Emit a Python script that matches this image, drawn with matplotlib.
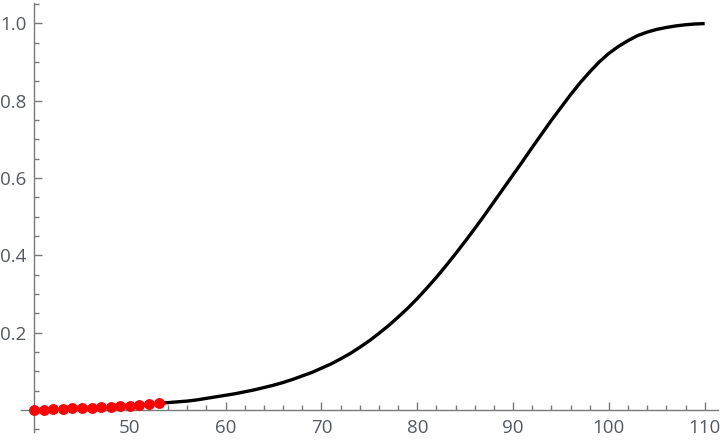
import matplotlib
matplotlib.use("Agg")
import matplotlib.pyplot as plt
from matplotlib.ticker import FixedLocator

plt.rcParams['font.family'] = ['Open Sans', 'DejaVu Sans']

# Observed data points (red)
obs_age = [40, 41, 42, 43, 44, 45, 46, 47, 48, 49, 50, 51, 52, 53]
obs_val = [0.000, 0.001, 0.002, 0.003, 0.004, 0.005, 0.006, 0.007,
           0.008, 0.010, 0.011, 0.013, 0.015, 0.017]

# Fitted curve (black)
curve_age = list(range(53, 111))
curve_val = [0.017, 0.019, 0.021, 0.023, 0.026, 0.030, 0.034, 0.038, 0.042,
             0.047, 0.052, 0.058, 0.064, 0.071, 0.079, 0.088, 0.097, 0.108,
             0.119, 0.132, 0.146, 0.162, 0.179, 0.198, 0.218, 0.240, 0.263,
             0.288, 0.315, 0.343, 0.373, 0.404, 0.436, 0.469, 0.503, 0.538,
             0.573, 0.608, 0.643, 0.679, 0.714, 0.749, 0.782, 0.815, 0.846,
             0.874, 0.900, 0.922, 0.940, 0.955, 0.968, 0.977, 0.984, 0.989,
             0.993, 0.996, 0.998, 0.999]

x_major = [50, 60, 70, 80, 90, 100, 110]
y_major = [0.2, 0.4, 0.6, 0.8, 1.0]
y_labels = ["0.2", "0.4", "0.6", "0.8", "1.0"]

fig = plt.figure(figsize=(7.2, 4.4), dpi=100)
ax = fig.add_axes([21/720, 8/440, (718-21)/720, (437.3-8)/440])

ax.plot(curve_age, curve_val, color='black', lw=2.4, solid_capstyle='butt',
        solid_joinstyle='round', zorder=3)
ax.plot(obs_age, obs_val, 'o', color='#ff0000', ms=6.8, mec='#ff0000',
        zorder=4, clip_on=False)

ax.set_xlim(38.64, 111.39)
ax.set_ylim(-0.057, 1.053)

axis_col = '#7a7a7a'
label_col = '#555a60'
for s in ['top', 'right']:
    ax.spines[s].set_visible(False)
ax.spines['left'].set_position(('data', 40))
ax.spines['bottom'].set_position(('data', 0))
for s in ['left', 'bottom']:
    ax.spines[s].set_color(axis_col)
    ax.spines[s].set_linewidth(1.0)

ax.xaxis.set_major_locator(FixedLocator(x_major))
ax.xaxis.set_minor_locator(FixedLocator([v for v in range(42, 112, 2) if v % 10 != 0]))
ax.yaxis.set_major_locator(FixedLocator(y_major))
ax.set_yticklabels(y_labels)
ax.yaxis.set_minor_locator(FixedLocator([-0.05, 0.05, 0.1, 0.15, 0.25, 0.3, 0.35,
                                         0.45, 0.5, 0.55, 0.65, 0.7, 0.75,
                                         0.85, 0.9, 0.95, 1.05]))

ax.tick_params(which='both', direction='in', color=axis_col, width=1.0)
ax.tick_params(which='major', length=6, labelsize=13.5, labelcolor=label_col, pad=5.5)
ax.tick_params(which='minor', length=3.6)
ax.tick_params(axis='x', which='major', pad=6.5)

fig.savefig('out.png', dpi=100)
